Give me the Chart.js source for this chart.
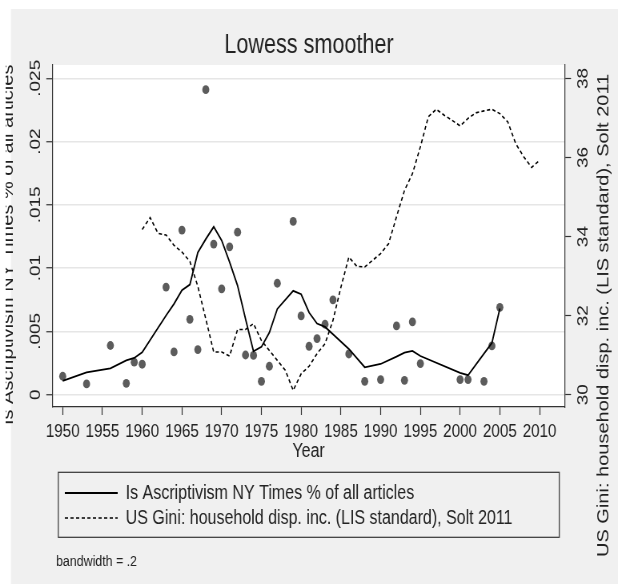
<!DOCTYPE html>
<html>
<head>
<meta charset="utf-8">
<title>Lowess smoother</title>
<script src="https://cdn.jsdelivr.net/npm/chart.js@4.4.1/dist/chart.umd.min.js"></script>
<style>
  html, body { margin: 0; padding: 0; overflow: hidden; background: #fff; }
  /* the original export is squeezed horizontally, so draw wide and squeeze */
  #wrap { width: 772px; height: 584px; transform: scaleX(0.8005); transform-origin: 0 0; }
</style>
</head>
<body>
<div id="wrap"><canvas id="chart" width="772" height="584"></canvas></div>
<script>
// years that have an observation (NY Times share)
const pointYears = [1950, 1953, 1956, 1958, 1959, 1960, 1963, 1964, 1965, 1966, 1967, 1968, 1969,
    1970, 1971, 1972, 1973, 1974, 1975, 1976, 1977, 1979, 1980, 1981, 1982, 1983, 1984, 1986,
    1988, 1990, 1992, 1993, 1994, 1995, 2000, 2001, 2003, 2004, 2005];
const articleShare = [.00145, .00084, .00388, .00089, .00256, .0024, .0085, .00337, .013, .00595,
    .00356, .0241, .0119, .00836, .01168, .01284, .00313, .0031, .00105, .00224, .0088, .01369,
    .00622, .00382, .00443, .00556, .00749, .00321, .00105, .00119, .00543, .00113, .00575,
    .00245, .00119, .00119, .00105, .00385, .0069];
// lowess fit, read at the same years
const lowessShare = [.00108, .00176, .00208, .0027, .0029, .00335, .00625, .00717, .00825, .0087,
    .01123, .01229, .01326, .01218, .01047, .00862, .00598, .00343, .00377, .0049, .00677, .0082,
    .00793, .00649, .00562, .00535, .00477, .00361, .00216, .00242, .003, .00332, .00345, .00305,
    .00171, .00153, .00324, .00408, .0068];

// US Gini (right axis)
const giniYears = [1960, 1961, 1962, 1963, 1964, 1965, 1966, 1967, 1968, 1969, 1970, 1971, 1972,
    1973, 1974, 1975, 1976, 1977, 1978, 1979, 1980, 1981, 1982, 1983, 1984, 1985, 1986, 1987,
    1988, 1989, 1990, 1991, 1992, 1993, 1994, 1995, 1996, 1997, 1998, 1999, 2000, 2001, 2002,
    2003, 2004, 2005, 2006, 2007, 2008, 2009, 2010];
const giniValues = [34.18, 34.48, 34.08, 34.04, 33.78, 33.61, 33.37, 32.74, 31.92, 31.08, 31.08,
    30.98, 31.65, 31.65, 31.8, 31.37, 31.12, 30.87, 30.62, 30.11, 30.53, 30.72, 31.04, 31.29,
    31.88, 32.72, 33.48, 33.25, 33.23, 33.4, 33.57, 33.82, 34.5, 35.17, 35.59, 36.27, 37.03,
    37.22, 37.07, 36.94, 36.8, 36.99, 37.13, 37.18, 37.22, 37.11, 36.9, 36.35, 36.02, 35.75, 35.93];

const yearTicks = [1950, 1955, 1960, 1965, 1970, 1975, 1980, 1985, 1990, 1995, 2000, 2005, 2010];
const shareTicks = [0, .005, .01, .015, .02, .025];
const giniTicks = [30, 32, 34, 36, 38];

const seriesNames = ['Is Ascriptivism NY Times % of all articles',
    'US Gini: household disp. inc. (LIS standard), Solt 2011'];
const leftTitle = 'Is Ascriptivism NY Times % of all articles';
const rightTitle = 'US Gini: household disp. inc. (LIS standard), Solt 2011';
const noteText = 'bandwidth = .2';

const SX = 0.8005;   // horizontal squeeze applied by css
const FONT = "'Liberation Sans', Arial, sans-serif";
const INK = '#222';
const AXIS = '#333';

Chart.defaults.font.family = FONT;
Chart.defaults.color = INK;

// gray backdrop, white plot area, legend frame and the extra texts
const stataFrame = {
    id: 'stataFrame',
    beforeDraw(chart) {
        const {ctx, chartArea: a, width, height} = chart;
        ctx.save();
        ctx.fillStyle = '#ffffff';
        ctx.fillRect(0, 0, width, height);
        ctx.fillStyle = '#f0f0f0';
        ctx.fillRect(11 / SX, 9, width, height);
        ctx.fillStyle = '#ffffff';
        ctx.fillRect(a.left, a.top, a.right - a.left, a.bottom - a.top);
        ctx.restore();
        // legend items start a bit inside the frame
        chart.legend.left = 76;
    },
    afterDraw(chart) {
        const {ctx, width, height} = chart;
        const lg = chart.legend;
        ctx.save();
        ctx.strokeStyle = AXIS;
        ctx.lineWidth = 1.2;
        ctx.strokeRect(58.3 / SX, lg.top - 5.7, (559.3 - 58.3) / SX, 65);

        ctx.fillStyle = INK;
        ctx.font = '20px ' + FONT;
        ctx.textAlign = 'left';
        ctx.textBaseline = 'alphabetic';

        // left title runs off the edge of the picture
        ctx.save();
        ctx.beginPath();
        ctx.rect(7, 0, width, height);
        ctx.clip();
        ctx.translate(15.5, 425);
        ctx.rotate(-Math.PI / 2);
        ctx.fillText(leftTitle, 0, 0);
        ctx.restore();

        ctx.save();
        ctx.translate(608 / SX, 557);
        ctx.rotate(-Math.PI / 2);
        ctx.fillText(rightTitle, 0, 0);
        ctx.restore();

        ctx.font = '15.5px ' + FONT;
        ctx.textBaseline = 'middle';
        ctx.fillText(noteText, 56 / SX, 562);
        ctx.restore();
    }
};

function shareLabel(v) {
    return v === 0 ? '0' : String(v).replace(/^0\./, '.');
}

// legend samples: take dash and width from the line datasets
function legendItems(chart) {
    const items = Chart.defaults.plugins.legend.labels.generateLabels(chart);
    items.forEach(item => {
        const ds = chart.data.datasets[item.datasetIndex];
        item.lineDash = ds.borderDash || [];
        item.lineWidth = ds.borderWidth;
        item.strokeStyle = ds.borderColor;
    });
    return items;
}

const ctx = document.getElementById('chart').getContext('2d');
new Chart(ctx, {
    type: 'line',
    data: {
        datasets: [{
            type: 'scatter',
            label: 'points',
            data: pointYears.map((yr, i) => ({x: yr, y: articleShare[i]})),
            yAxisID: 'y',
            showLine: false,
            pointRadius: 4.4,
            pointBackgroundColor: '#5c5c5c',
            pointBorderWidth: 0,
            order: 2
        }, {
            label: seriesNames[0],
            data: pointYears.map((yr, i) => ({x: yr, y: lowessShare[i]})),
            yAxisID: 'y',
            borderColor: '#000',
            backgroundColor: '#000',
            borderWidth: 1.8,
            pointRadius: 0,
            tension: 0,
            order: 0
        }, {
            label: seriesNames[1],
            data: giniYears.map((yr, i) => ({x: yr, y: giniValues[i]})),
            yAxisID: 'y2',
            borderColor: '#000',
            backgroundColor: '#000',
            borderWidth: 1.6,
            borderDash: [4, 3],
            pointRadius: 0,
            tension: 0,
            order: 1
        }]
    },
    options: {
        responsive: false,
        animation: false,
        devicePixelRatio: 1,
        events: [],
        layout: {padding: {top: 0, left: 0, right: 0, bottom: 46}},
        scales: {
            x: {
                type: 'linear',
                min: 1948.69,
                max: 2013.2,
                afterBuildTicks: s => { s.ticks = yearTicks.map(v => ({value: v})); },
                afterFit: s => { s.height = 71; },
                ticks: {
                    autoSkip: false,
                    maxRotation: 0,
                    padding: 5.6,
                    font: {size: 19},
                    color: INK,
                    callback: v => String(v)
                },
                grid: {drawOnChartArea: false, tickLength: 8, tickColor: AXIS, tickWidth: 1.2},
                border: {color: AXIS, width: 1.2},
                title: {display: true, text: 'Year', font: {size: 20}, color: INK, padding: {top: 0, bottom: 15}}
            },
            y: {
                position: 'left',
                min: -0.00098,
                max: 0.02605,
                afterBuildTicks: s => { s.ticks = shareTicks.map(v => ({value: v})); },
                afterFit: s => { s.width = 52.3 / SX; },
                ticks: {
                    autoSkip: false,
                    minRotation: 90,
                    maxRotation: 90,
                    crossAlign: 'center',
                    padding: -5.7,
                    font: {size: 19},
                    color: INK,
                    callback: shareLabel
                },
                grid: {color: '#e6e6e6', lineWidth: 1.5, tickLength: 7.5, tickColor: AXIS, tickWidth: 1.2},
                border: {color: AXIS, width: 1.2}
            },
            y2: {
                position: 'right',
                min: 29.69,
                max: 38.34,
                afterBuildTicks: s => { s.ticks = giniTicks.map(v => ({value: v})); },
                afterFit: s => { s.width = 772 - 565 / SX; },
                ticks: {
                    autoSkip: false,
                    minRotation: 90,
                    maxRotation: 90,
                    crossAlign: 'center',
                    padding: 4.4,
                    font: {size: 19},
                    color: INK,
                    callback: v => String(v)
                },
                grid: {drawOnChartArea: false, tickLength: 7.5, tickColor: AXIS, tickWidth: 1.2},
                border: {color: AXIS, width: 1.2}
            }
        },
        plugins: {
            title: {
                display: true,
                text: 'Lowess smoother',
                color: INK,
                font: {size: 27, weight: 'normal'},
                padding: {top: 29.8, bottom: 2.8}
            },
            legend: {
                position: 'bottom',
                align: 'start',
                labels: {
                    generateLabels: legendItems,
                    filter: item => item.datasetIndex !== 0,
                    usePointStyle: true,
                    pointStyle: 'line',
                    pointStyleWidth: 66,
                    boxHeight: 20,
                    padding: 5,
                    color: INK,
                    font: {size: 20}
                }
            },
            tooltip: {enabled: false}
        }
    },
    plugins: [stataFrame]
});
</script>
</body>
</html>
